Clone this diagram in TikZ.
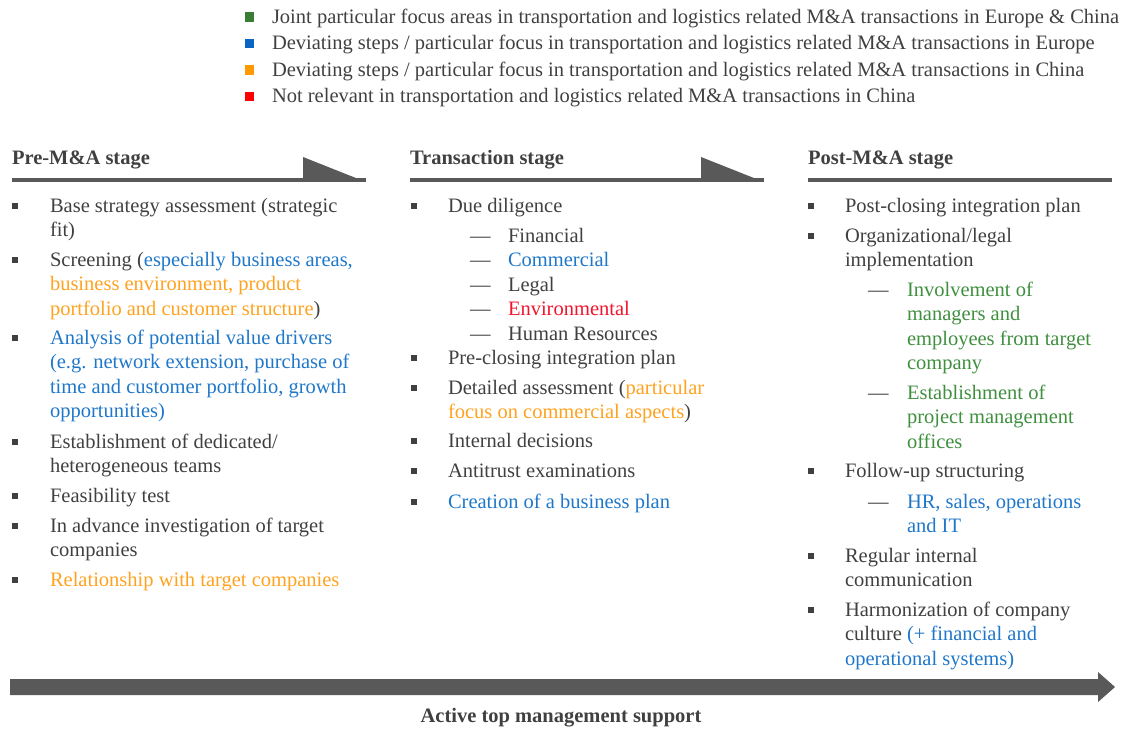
\documentclass[tikz,border=0pt]{standalone}
\usepackage{fontspec}
\setmainfont{Liberation Serif}
\definecolor{txt}{HTML}{404040}
\definecolor{cblue}{HTML}{1F77C9}
\definecolor{corange}{HTML}{FFA21F}
\definecolor{cgreen}{HTML}{3F8F3F}
\definecolor{cred}{HTML}{F0142D}
\definecolor{lgreen}{HTML}{3A7D34}
\definecolor{lblue}{HTML}{0A66C2}
\definecolor{lorange}{HTML}{FF9900}
\definecolor{lred}{HTML}{FF0000}
\definecolor{barc}{HTML}{595959}
\newcommand{\tblue}[1]{\textcolor{cblue}{#1}}
\newcommand{\torange}[1]{\textcolor{corange}{#1}}
\newcommand{\tgreen}[1]{\textcolor{cgreen}{#1}}
\newcommand{\tred}[1]{\textcolor{cred}{#1}}
\begin{document}
\begin{tikzpicture}[x=0.5pt,y=-0.5pt,
  every node/.style={inner sep=0pt, outer sep=0pt, font=\fontsize{10.25pt}{12.25pt}\selectfont, text=txt},
  item/.style={anchor=base west, align=left},
  head/.style={anchor=base west, font=\fontsize{10.25pt}{12.25pt}\selectfont\bfseries},
  bul/.style={fill=txt, minimum size=2.6pt},
  dashmark/.style={anchor=base west},
  lsq/.style={minimum size=4.8pt},
  stageline/.style={draw=barc, line width=2pt},
  flag/.style={fill=barc}]
\useasboundingbox (0,0) rectangle (1122,728);

% legend
\node[lsq, fill=lgreen] (lg1) at (249.5,17) {};
\node[lsq, fill=lblue] (lg2) at (249.5,43.5) {};
\node[lsq, fill=lorange] (lg3) at (249.5,70) {};
\node[lsq, fill=lred] (lg4) at (249.5,96.5) {};
\node[item] (lt1) at (272,23) {Joint particular focus areas in transportation and logistics related M\&A transactions in Europe \& China};
\node[item] (lt2) at (272,49.5) {Deviating steps / particular focus in transportation and logistics related M\&A transactions in Europe};
\node[item] (lt3) at (272,76) {Deviating steps / particular focus in transportation and logistics related M\&A transactions in China};
\node[item] (lt4) at (272,102.5) {Not relevant in transportation and logistics related M\&A transactions in China};

% stage headers
\node[head] (h1) at (12,164) {Pre-M\&A stage};
\node[head] (h2) at (410,164) {Transaction stage};
\node[head] (h3) at (808,164) {Post-M\&A stage};
\draw[stageline] (12,180) -- (366,180);
\fill[flag] (303,157) -- (303,181) -- (366,182) -- cycle;
\draw[stageline] (410,180) -- (764,180);
\fill[flag] (701,157) -- (701,181) -- (764,182) -- cycle;
\draw[stageline] (808,180) -- (1112,180);

% column 1 (multi-line nodes are placed by the baseline of their last line)
\node[bul] (b11) at (15,206) {};
\node[item] (t11) at (50,236.5) {Base strategy assessment (strategic\\fit)};
\node[bul] (b12) at (15,260) {};
\node[item] (t12) at (50,315) {Screening (\tblue{especially business areas,}\\\torange{business environment, product}\\\torange{portfolio and customer structure})};
\node[bul] (b13) at (15,338) {};
\node[item] (t13) at (50,417.5) {\tblue{Analysis of potential value drivers}\\\tblue{(e.g. network extension, purchase of}\\\tblue{time and customer portfolio, growth}\\\tblue{opportunities)}};
\node[bul] (b14) at (15,442) {};
\node[item] (t14) at (50,472.5) {Establishment of dedicated/\\heterogeneous teams};
\node[bul] (b15) at (15,496) {};
\node[item] (t15) at (50,502) {Feasibility test};
\node[bul] (b16) at (15,526) {};
\node[item] (t16) at (50,556.5) {In advance investigation of target\\companies};
\node[bul] (b17) at (15,580) {};
\node[item] (t17) at (50,586) {\torange{Relationship with target companies}};

% column 2
\node[bul] (b21) at (414,206) {};
\node[item] (t21) at (448,212) {Due diligence};
\node[dashmark] (d21) at (470,242) {---};
\node[item] (s21) at (508,242) {Financial};
\node[dashmark] (d22) at (470,266.5) {---};
\node[item] (s22) at (508,266.5) {\tblue{Commercial}};
\node[dashmark] (d23) at (470,291) {---};
\node[item] (s23) at (508,291) {Legal};
\node[dashmark] (d24) at (470,315.5) {---};
\node[item] (s24) at (508,315.5) {\tred{Environmental}};
\node[dashmark] (d25) at (470,340) {---};
\node[item] (s25) at (508,340) {Human Resources};
\node[bul] (b22) at (414,358) {};
\node[item] (t22) at (448,364) {Pre-closing integration plan};
\node[bul] (b23) at (414,388) {};
\node[item] (t23) at (448,418.5) {Detailed assessment (\torange{particular}\\\torange{focus on commercial aspects})};
\node[bul] (b24) at (414,441) {};
\node[item] (t24) at (448,447) {Internal decisions};
\node[bul] (b25) at (414,471) {};
\node[item] (t25) at (448,477) {Antitrust examinations};
\node[bul] (b26) at (414,502) {};
\node[item] (t26) at (448,508) {\tblue{Creation of a business plan}};

% column 3
\node[bul] (b31) at (811,206) {};
\node[item] (t31) at (845,212) {Post-closing integration plan};
\node[bul] (b32) at (811,236) {};
\node[item] (t32) at (845,266.5) {Organizational/legal\\implementation};
\node[dashmark] (d31) at (868,296) {---};
\node[item] (s31) at (907,369.5) {\tgreen{Involvement of}\\\tgreen{managers and}\\\tgreen{employees from target}\\\tgreen{company}};
\node[dashmark] (d32) at (868,399) {---};
\node[item] (s32) at (907,448) {\tgreen{Establishment of}\\\tgreen{project management}\\\tgreen{offices}};
\node[bul] (b33) at (811,471) {};
\node[item] (t33) at (845,477) {Follow-up structuring};
\node[dashmark] (d33) at (868,508) {---};
\node[item] (s33) at (907,532.5) {\tblue{HR, sales, operations}\\\tblue{and IT}};
\node[bul] (b34) at (811,556) {};
\node[item] (t34) at (845,586.5) {Regular internal\\communication};
\node[bul] (b35) at (811,610) {};
\node[item] (t35) at (845,665) {Harmonization of company\\culture \tblue{(+ financial and}\\\tblue{operational systems)}};

% bottom arrow
\fill[barc] (10,679) -- (1098,679) -- (1098,672) -- (1115,687) -- (1098,702) -- (1098,695) -- (10,695) -- cycle;
\node[head, anchor=base] (lbl) at (561,722) {Active top management support};
\end{tikzpicture}
\end{document}
